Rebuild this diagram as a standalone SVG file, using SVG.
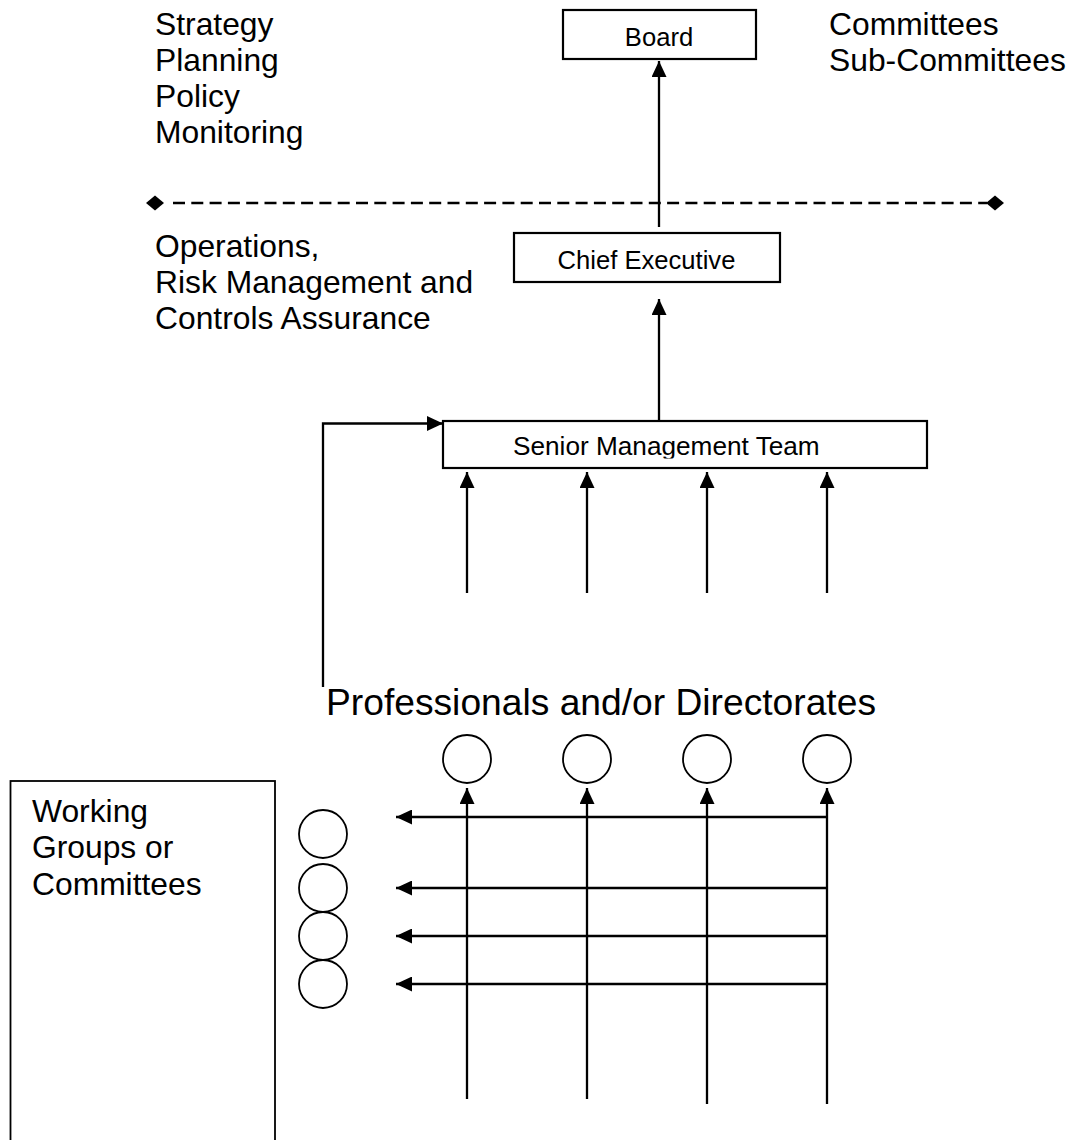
<svg xmlns="http://www.w3.org/2000/svg" width="1073" height="1140" viewBox="0 0 1073 1140">
  <style>
    .box { fill: #ffffff; stroke: #000000; stroke-width: 2.2; }
    .circ { fill: #ffffff; stroke: #000000; stroke-width: 1.8; }
    .side { font-family: "Liberation Sans", Arial, sans-serif; font-size: 31.8px; fill: #000000; }
    .boxt { font-family: "Liberation Sans", Arial, sans-serif; font-size: 25.6px; fill: #000000; }
    .big { font-family: "Liberation Sans", Arial, sans-serif; font-size: 36px; fill: #000000; }
    .conn { fill: none; stroke: #000000; stroke-width: 2.3; }
    .dash { fill: none; stroke: #000000; stroke-width: 2.3; stroke-dasharray: 12 6.3; }
  </style>
  <defs>
    <marker id="arrow" markerUnits="userSpaceOnUse" markerWidth="16" markerHeight="15" refX="16" refY="7.5" orient="auto" viewBox="0 0 16 15">
      <path d="M0,0 L16,7.5 L0,15 z" fill="#000000"/>
    </marker>
    <clipPath id="smtClip">
      <rect x="443" y="421" width="484" height="37.5"/>
    </clipPath>
  </defs>
  <rect x="0" y="0" width="1073" height="1140" fill="#ffffff"/>

  <g id="connectors">
    <!-- dashed divider -->
    <line class="dash" x1="173" y1="203" x2="987" y2="203"/>
    <polygon points="146,203 155,195.5 164,203 155,210.5" fill="#000000"/>
    <polygon points="986,203 995,195.5 1004,203 995,210.5" fill="#000000"/>
    <!-- Chief Executive to Board -->
    <line class="conn" x1="659" y1="227" x2="659" y2="61" marker-end="url(#arrow)"/>
    <!-- SMT to Chief Executive -->
    <line class="conn" x1="659" y1="421" x2="659" y2="299" marker-end="url(#arrow)"/>
    <!-- arrows into SMT -->
    <line class="conn" x1="467" y1="593" x2="467" y2="472" marker-end="url(#arrow)"/>
    <line class="conn" x1="587" y1="593" x2="587" y2="472" marker-end="url(#arrow)"/>
    <line class="conn" x1="707" y1="593" x2="707" y2="472" marker-end="url(#arrow)"/>
    <line class="conn" x1="827" y1="593" x2="827" y2="472" marker-end="url(#arrow)"/>
    <!-- left feedback connector -->
    <path class="conn" d="M323,687 V423.5 H443" marker-end="url(#arrow)"/>
    <!-- vertical lines up to directorates -->
    <line class="conn" x1="467" y1="1099" x2="467" y2="788" marker-end="url(#arrow)"/>
    <line class="conn" x1="587" y1="1099" x2="587" y2="788" marker-end="url(#arrow)"/>
    <line class="conn" x1="707" y1="1104" x2="707" y2="788" marker-end="url(#arrow)"/>
    <line class="conn" x1="827" y1="1104" x2="827" y2="788" marker-end="url(#arrow)"/>
    <!-- horizontal arrows to working groups -->
    <line class="conn" x1="827" y1="817" x2="396" y2="817" marker-end="url(#arrow)"/>
    <line class="conn" x1="827" y1="888" x2="396" y2="888" marker-end="url(#arrow)"/>
    <line class="conn" x1="827" y1="936" x2="396" y2="936" marker-end="url(#arrow)"/>
    <line class="conn" x1="827" y1="984" x2="396" y2="984" marker-end="url(#arrow)"/>
  </g>

  <g id="board">
    <rect class="box" x="563" y="10" width="193" height="49"/>
    <text class="boxt" x="659" y="46" text-anchor="middle">Board</text>
  </g>

  <g id="board-roles">
    <text class="side" x="155" y="35">Strategy</text>
    <text class="side" x="155" y="71">Planning</text>
    <text class="side" x="155" y="107">Policy</text>
    <text class="side" x="155" y="143">Monitoring</text>
  </g>

  <g id="board-committees">
    <text class="side" x="829" y="35">Committees</text>
    <text class="side" x="829" y="71">Sub-Committees</text>
  </g>

  <g id="operations-label">
    <text class="side" x="155" y="257">Operations,</text>
    <text class="side" x="155" y="293">Risk Management and</text>
    <text class="side" x="155" y="329">Controls Assurance</text>
  </g>

  <g id="chief-executive">
    <rect class="box" x="514" y="233" width="266" height="49"/>
    <text class="boxt" x="646.5" y="269" text-anchor="middle">Chief Executive</text>
  </g>

  <g id="senior-management-team">
    <rect class="box" x="443" y="421" width="484" height="47"/>
    <text class="boxt" x="513" y="455" style="font-size:26.2px" clip-path="url(#smtClip)">Senior Management Team</text>
  </g>

  <g id="directorates-label">
    <text class="big" x="326" y="715" textLength="550" lengthAdjust="spacingAndGlyphs">Professionals and/or Directorates</text>
  </g>

  <g id="directorates">
    <circle class="circ" cx="467" cy="759" r="24"/>
    <circle class="circ" cx="587" cy="759" r="24"/>
    <circle class="circ" cx="707" cy="759" r="24"/>
    <circle class="circ" cx="827" cy="759" r="24"/>
  </g>

  <g id="working-groups">
    <rect class="box" x="10.5" y="781" width="264.5" height="380" style="stroke-width:1.8"/>
    <text class="side" x="32" y="822">Working</text>
    <text class="side" x="32" y="858">Groups or</text>
    <text class="side" x="32" y="895">Committees</text>
  </g>

  <g id="working-group-circles">
    <circle class="circ" cx="323" cy="834" r="24"/>
    <circle class="circ" cx="323" cy="888" r="24"/>
    <circle class="circ" cx="323" cy="936" r="24"/>
    <circle class="circ" cx="323" cy="984" r="24"/>
  </g>
</svg>
